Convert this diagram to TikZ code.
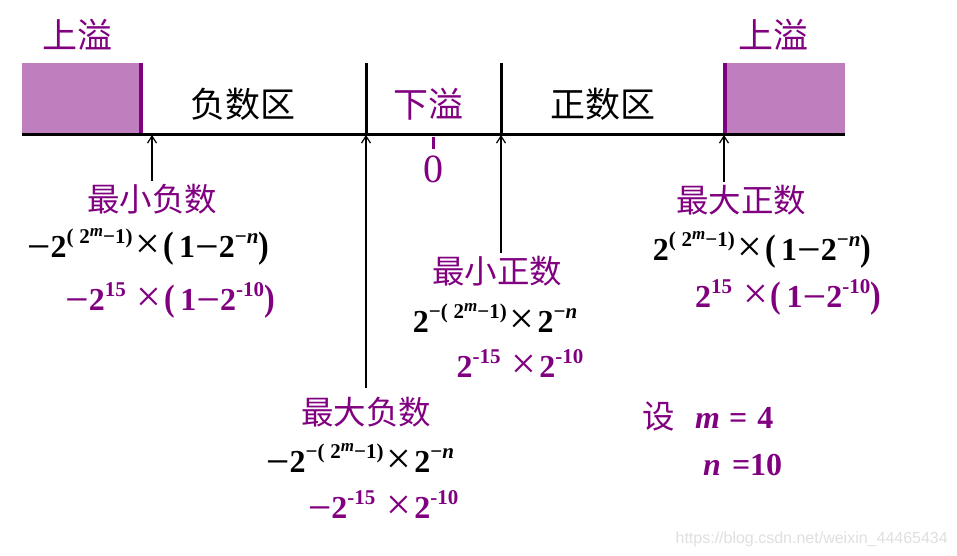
\documentclass[tikz,border=0pt]{standalone}
\usepackage{fontspec}
\setmainfont{Liberation Serif}
\newfontfamily\cjk{Noto Sans CJK SC}
\newfontfamily\wmfont{Liberation Sans}
\usetikzlibrary{arrows.meta}

\definecolor{ovpurple}{RGB}{128,0,128}
\definecolor{ovfill}{RGB}{191,127,191}
\newcommand{\ex}[1]{\raisebox{0.42em}{\fontsize{21}{21}\selectfont #1}}
\newcommand{\exx}[1]{\raisebox{0.32em}{\fontsize{17}{17}\selectfont #1}}
\newcommand{\tm}{\hspace{3pt}\raisebox{-0.06em}{\fontsize{44}{44}\selectfont\textmd{×}}\hspace{3pt}}
\newcommand{\mn}{\scalebox{1.3}[1]{−}}
\newcommand{\lp}{\scalebox{1}[1.15]{(}\hspace{5pt}}
\newcommand{\rp}{\scalebox{1}[1.15]{)}}

\tikzset{
  zh/.style={font=\cjk\fontsize{32.5}{32.5}\selectfont, inner sep=0pt},
  ovlbl/.style={font=\cjk\fontsize{35}{35}\selectfont, inner sep=0pt, text=ovpurple},
  zone/.style={font=\cjk\fontsize{35}{35}\selectfont, inner sep=0pt},
  fml/.style={font=\fontsize{32}{32}\selectfont\bfseries, anchor=base, inner sep=0pt},
  arr/.style={line width=2.5pt, -{Straight Barb[length=7pt,width=9pt,line width=1.2pt]}},
}

\begin{document}
\begin{tikzpicture}[x=1pt, y=-1pt]
\useasboundingbox (0,0) rectangle (957,556);

% overflow boxes
\fill[ovfill] (22,63) rectangle (141,135);
\fill[ovfill] (725,63) rectangle (845,135);
\draw[ovpurple, line width=4pt] (141,63) -- (141,135);
\draw[ovpurple, line width=4pt] (725,63) -- (725,135);
\draw[line width=3pt] (366,63) -- (366,135);
\draw[line width=3pt] (501,63) -- (501,135);

% axis
\path (22,135) coordinate (left)
      (845,135) coordinate (right)
      (152,135) coordinate (minneg)
      (366,135) coordinate (maxneg)
      (501,135) coordinate (minpos)
      (724,135) coordinate (maxpos)
      (433,137) coordinate (zero);
\draw[line width=3pt] (left) -- (right);
\draw[ovpurple, line width=3pt] (zero) -- ++(0,12) node[below=5pt, inner sep=0pt, font=\fontsize{40}{40}\selectfont] (zerolbl) {0};

\node[ovlbl] (ovleft) at (77,35) {上溢};
\node[ovlbl] (ovright) at (773,35) {上溢};
\node[zone] (negzone) at (243,104) {负数区};
\node[zone, text=ovpurple] (underflow) at (428,104) {下溢};
\node[zone] (poszone) at (603,104) {正数区};

%%%%%%%%%%%%%%%%%%%%%%%%%%%%%%%%%%%%%%%%

\node[zh, text=ovpurple] (minnegT) at (152,199) {最小负数};
\node[fml] (minnegF) at (148,257) {\mn2\ex{(\;2\exx{\textit{m}}−1)}\tm\lp1\mn2\ex{−\textit{n}}\rp};
\node[fml, text=ovpurple] (minnegV) at (170,310) {\mn2\ex{15} \tm\lp1\mn2\ex{-10}\rp};

\node[zh, text=ovpurple] (maxnegT) at (366,412) {最大负数};
\node[fml] (maxnegF) at (360,472) {\mn2\ex{−(\;2\exx{\textit{m}}−1)}\tm2\ex{−\textit{n}}};
\node[fml, text=ovpurple] (maxnegV) at (383,518) {\mn2\ex{-15} \tm2\ex{-10}};

\node[zh, text=ovpurple] (minposT) at (497,271) {最小正数};
\node[fml] (minposF) at (495,332) {2\ex{−(\;2\exx{\textit{m}}−1)}\tm2\ex{−\textit{n}}};
\node[fml, text=ovpurple] (minposV) at (520,377) {2\ex{-15} \tm2\ex{-10}};

\node[zh, text=ovpurple] (maxposT) at (741,200) {最大正数};
\node[fml] (maxposF) at (762,260) {2\ex{(\;2\exx{\textit{m}}−1)}\tm\lp1\mn2\ex{−\textit{n}}\rp};
\node[fml, text=ovpurple] (maxposV) at (788,307) {2\ex{15} \tm\lp1\mn2\ex{-10}\rp};

\draw[arr] (minnegT.north -| minneg) ++(0,-3) -- (minneg);
\draw[arr] (maxnegT.north -| maxneg) ++(0,-9) -- (maxneg);
\draw[arr] (minposT.north -| minpos) ++(0,-3) -- (minpos);
\draw[arr] (maxposT.north -| maxpos) ++(0,-3) -- (maxpos);

%%%%%%%%%%%%%%%%%%%%%%%%%%%%%%%%%%%%%%%%

\node[zh, text=ovpurple, anchor=base west] (setlbl) at (642,428) {设};
\node[fml, text=ovpurple, anchor=base west] (mval) at (695,428) {\textit{m}\hspace{9pt}=\hspace{10pt}4};
\node[fml, text=ovpurple, anchor=base west] (nval) at (703,475) {\textit{n}\hspace{11pt}=10};

\node[font=\wmfont\fontsize{16}{16}\selectfont, text=gray!25, anchor=base east, inner sep=0pt] (mark) at (948,543) {https://blog.csdn.net/weixin\_44465434};

\end{tikzpicture}
\end{document}
